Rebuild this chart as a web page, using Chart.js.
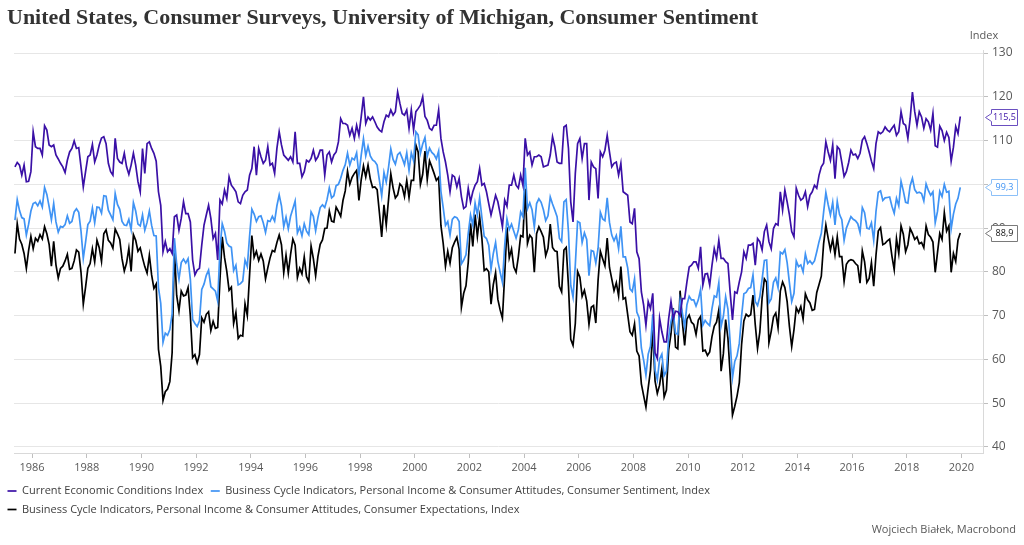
<!DOCTYPE html>
<html><head><meta charset="utf-8">
<script src="https://cdn.jsdelivr.net/npm/chart.js@4.4.1/dist/chart.umd.min.js"></script>
<style>html,body{margin:0;padding:0;background:#fff;}#wrap{position:relative;width:1024px;height:545px;}</style>
</head><body><div id="wrap"><canvas id="c"></canvas></div>
<script>
const titleText = 'United States, Consumer Surveys, University of Michigan, Consumer Sentiment';
const footerText = 'Wojciech Białek, Macrobond';
const unitLabel = 'Index';
const seriesNames = [
  'Current Economic Conditions Index',
  'Business Cycle Indicators, Personal Income & Consumer Attitudes, Consumer Sentiment, Index',
  'Business Cycle Indicators, Personal Income & Consumer Attitudes, Consumer Expectations, Index'
];
const startYear = 1985, startMonth = 5; // monthly, May 1985 .. Dec 2019
const xTicks = [1986,1988,1990,1992,1994,1996,1998,2000,2002,2004,2006,2008,2010,2012,2014,2016,2018,2020];
const yTicks = [40,50,60,70,80,90,100,110,120,130];

const currentConditions = [
104.0,105.0,104.4,102.1,104.4,100.6,100.7,102.9,
112.0,108.6,108.2,108.2,106.7,113.4,112.4,109.0,108.6,109.0,106.7,105.8,
104.8,104.0,102.7,105.5,107.4,108.2,109.9,108.2,108.4,104.0,99.4,102.9,
106.3,106.7,109.1,105.1,106.7,109.0,110.6,110.9,109.3,104.8,102.9,102.1,
110.5,105.9,105.1,104.8,107.1,104.0,102.3,104.4,107.1,104.4,100.6,98.3,
108.2,102.5,109.3,109.7,108.2,107.1,105.3,98.3,95.2,84.6,86.9,84.6,
85.3,84.2,92.6,93.0,89.5,92.2,96.0,93.3,93.3,91.4,82.7,79.3,
80.4,80.8,86.1,90.7,93.0,95.2,92.2,87.6,88.8,82.7,96.4,95.5,
98.7,96.8,101.7,99.8,99.1,98.3,96.0,95.6,97.5,98.3,98.7,102.1,
103.6,108.6,102.1,108.2,106.3,104.8,105.5,108.6,104.4,104.8,102.5,108.2,
112.0,109.0,106.7,106.1,105.5,106.3,105.1,112.0,104.8,104.8,101.7,102.9,
105.5,105.1,105.9,107.8,105.5,106.3,107.8,107.8,102.1,106.7,107.4,105.1,
106.7,107.4,109.7,115.0,113.9,113.9,113.5,111.2,112.8,110.5,113.5,111.2,
115.4,120.0,113.9,115.4,114.7,115.4,114.3,113.1,112.4,112.0,114.3,115.8,
115.4,117.0,115.8,116.6,121.1,118.5,116.2,115.8,117.0,112.8,117.0,112.4,
116.6,117.3,118.1,120.0,115.5,114.6,112.8,112.4,113.5,113.5,117.0,110.5,
107.4,105.1,102.1,98.3,102.1,101.7,99.4,101.3,97.2,94.5,94.9,99.1,
96.0,98.3,99.8,100.6,103.6,99.8,100.2,98.3,95.6,93.0,95.2,97.5,
96.0,93.3,90.3,96.4,95.0,99.8,99.8,102.1,99.8,99.1,102.1,99.8,
110.5,106.7,107.4,104.4,106.3,106.3,106.7,106.3,104.0,104.2,104.4,106.7,
110.9,108.6,105.1,104.8,104.8,113.1,113.5,108.2,96.0,91.4,102.5,109.3,
110.5,105.9,109.3,109.3,96.4,105.1,104.0,103.6,96.8,107.4,106.3,107.8,
111.2,107.4,104.0,104.8,105.1,102.1,104.8,98.3,97.9,97.5,91.4,91.0,
94.5,84.6,83.0,75.4,72.4,67.8,73.2,71.6,75.1,61.5,60.2,69.4,
66.3,64.0,64.0,69.4,73.2,69.4,71.0,70.9,70.0,73.9,73.9,77.7,
81.1,81.5,82.3,82.3,80.8,85.7,77.0,79.5,79.6,77.0,81.5,85.3,
83.1,87.2,83.1,83.1,82.3,81.9,75.2,69.0,75.4,75.1,77.7,80.0,
84.6,83.1,86.1,86.1,86.5,81.5,87.6,86.9,85.0,89.2,90.7,86.9,
85.3,89.9,91.0,90.7,98.3,94.1,98.7,96.0,93.0,89.2,88.0,99.1,
97.5,96.4,96.8,98.3,94.9,97.5,98.3,99.8,99.1,102.1,104.0,104.8,
109.7,107.4,105.5,109.0,101.3,108.6,108.0,105.0,101.8,102.9,105.0,107.8,
106.7,106.9,105.9,107.1,110.1,110.9,109.3,107.4,105.3,103.6,109.3,112.0,
111.6,112.0,113.1,112.4,112.0,112.8,113.5,111.2,112.0,116.6,113.9,113.5,
110.5,115.0,121.1,116.6,113.5,116.6,115.4,112.8,115.0,114.3,112.4,116.2,
108.8,108.5,113.3,112.3,110.0,111.9,110.7,105.3,108.5,113.2,111.6,115.5
];

const sentiment = [
91.8,96.5,94.0,92.4,92.1,88.4,90.9,93.9,
95.6,95.9,95.1,96.2,94.8,99.3,97.7,94.9,91.9,95.6,91.4,89.1,
90.4,90.2,90.8,92.8,91.1,91.5,93.7,94.4,93.6,89.3,83.1,86.8,
90.8,91.6,94.6,91.2,94.8,94.7,93.4,97.4,97.3,94.1,93.0,91.9,
97.9,95.4,94.3,91.5,90.7,90.6,92.0,89.6,95.8,93.9,90.9,90.5,
93.0,89.5,91.3,93.9,90.6,88.3,88.2,76.4,72.8,63.9,66.0,65.5,
66.8,70.4,87.7,81.8,78.3,82.1,82.9,82.0,83.0,78.3,69.1,68.2,
67.5,68.8,76.0,77.2,79.2,80.4,76.6,76.1,75.6,73.3,85.3,91.0,
89.3,86.6,85.9,85.6,80.3,81.5,77.0,77.3,77.9,82.7,81.2,88.2,
94.3,93.2,91.5,92.6,92.8,91.2,89.0,91.7,91.5,92.7,91.6,95.1,
97.6,95.1,90.3,92.5,89.8,92.7,94.4,96.2,88.9,90.2,88.2,91.0,
89.3,88.5,93.7,92.7,89.4,92.4,94.7,95.3,94.7,96.5,99.2,96.9,
97.4,99.7,100.0,101.4,103.2,104.5,107.1,104.4,106.0,105.6,107.2,102.1,
106.6,110.4,106.5,108.7,106.5,105.6,105.2,104.4,100.9,97.4,102.7,100.5,
103.9,108.1,105.7,104.6,106.8,107.3,106.0,104.5,107.2,103.2,107.2,105.4,
112.0,111.3,107.1,109.2,110.7,106.4,108.3,107.3,106.8,105.8,107.6,98.4,
94.7,90.6,91.5,88.4,92.0,92.6,92.4,91.5,81.8,82.7,83.9,88.8,
93.0,90.7,95.7,93.0,96.9,92.4,88.1,87.6,86.1,80.6,84.2,86.7,
82.4,79.9,77.6,86.0,92.1,89.7,90.9,89.3,87.7,89.6,93.7,92.6,
103.8,94.4,95.8,94.2,90.2,95.6,96.7,95.9,94.2,91.7,92.8,97.1,
95.5,94.1,92.6,87.7,86.9,96.0,96.5,89.1,76.9,74.2,81.6,91.5,
91.2,86.7,88.9,87.4,79.1,84.9,84.7,82.0,85.4,93.6,92.1,91.7,
96.9,91.3,88.4,87.1,88.3,85.3,90.4,83.4,83.4,80.9,76.1,75.5,
78.4,70.8,69.5,62.6,59.8,56.4,61.2,63.0,70.3,57.6,55.3,60.1,
61.2,56.3,57.3,65.1,68.7,70.8,66.0,65.7,73.5,70.6,67.4,72.5,
74.4,73.6,73.6,72.2,73.6,76.0,67.8,68.9,68.2,67.7,71.6,74.5,
74.2,77.5,67.5,69.8,74.3,71.5,63.7,55.8,59.5,60.8,63.7,69.9,
75.0,75.3,76.2,76.4,79.3,73.2,72.3,74.3,78.3,82.6,82.7,72.9,
73.8,77.6,78.6,76.4,84.5,84.1,85.1,82.1,77.5,73.2,75.1,82.5,
81.2,81.6,80.0,84.1,81.9,82.5,81.8,82.5,84.6,86.9,88.8,93.6,
98.1,95.4,93.0,95.9,90.7,96.1,93.1,91.9,87.2,90.0,91.3,92.6,
92.0,91.7,91.0,89.0,94.7,93.5,90.0,89.8,91.2,87.2,93.8,98.2,
98.5,96.3,96.9,97.0,97.1,95.0,93.4,96.8,95.1,100.7,98.5,95.9,
95.7,99.7,101.4,98.8,98.0,98.2,97.9,96.2,100.1,98.6,97.5,98.3,
91.2,93.8,98.4,97.2,100.0,98.2,98.4,89.8,93.2,95.5,96.8,99.3
];

const expectations = [
84.2,91.0,87.5,86.3,84.2,80.8,84.9,88.1,
85.3,87.7,87.0,88.5,87.5,90.3,88.7,86.3,81.3,87.0,81.6,78.6,
80.8,81.3,82.5,84.0,80.6,80.8,82.5,85.0,84.5,79.9,72.6,76.5,
80.8,81.9,85.3,82.3,87.2,85.5,82.4,88.7,89.6,87.2,86.6,85.4,
89.8,88.7,87.4,83.0,80.2,82.0,85.4,80.1,88.5,87.2,84.7,85.5,
83.2,81.2,79.7,83.8,79.3,76.2,77.2,62.3,58.4,50.6,52.6,53.2,
54.9,61.5,85.0,74.6,71.1,75.6,74.5,74.7,76.4,69.9,60.4,61.1,
59.2,61.1,69.5,68.5,70.3,70.9,66.6,68.7,67.1,67.3,78.2,88.0,
83.3,80.1,75.8,76.5,68.2,70.7,64.8,65.5,65.3,72.7,70.0,79.3,
88.3,83.3,84.7,82.6,84.1,82.5,78.4,80.9,83.2,84.9,84.6,86.7,
88.4,86.2,79.8,83.8,79.7,84.0,87.5,86.1,78.7,80.8,79.5,83.4,
78.9,77.8,85.9,83.0,79.1,83.5,86.3,87.3,89.9,90.0,93.9,91.6,
91.4,94.8,93.8,92.7,96.3,98.5,103.0,100.0,101.6,102.5,103.2,96.3,
101.0,104.2,101.7,104.4,101.2,99.3,99.4,98.8,93.5,88.0,95.3,90.7,
96.5,102.4,99.2,96.9,97.6,100.1,99.5,97.2,100.9,97.0,100.9,100.9,
109.0,107.4,100.0,102.3,107.6,101.1,105.4,104.0,102.5,100.9,101.6,90.6,
86.5,81.3,84.7,82.0,85.5,86.8,87.9,85.2,71.9,75.1,76.8,82.2,
91.1,85.8,93.1,88.1,92.6,87.6,80.3,80.7,80.0,72.6,77.1,79.8,
73.7,71.3,69.4,79.3,90.2,83.2,85.2,81.1,79.9,83.5,88.3,88.0,
99.0,86.5,88.4,87.7,79.9,88.7,90.3,89.2,87.9,83.7,85.4,90.9,
85.6,84.8,84.6,76.7,75.4,85.0,85.6,76.8,64.6,63.2,68.2,80.1,
78.8,74.4,75.8,73.3,68.0,71.9,72.3,68.3,78.1,84.7,83.0,81.4,
87.7,81.0,78.4,75.7,77.5,74.5,81.2,73.8,74.1,70.2,66.3,65.5,
68.1,61.9,60.8,54.4,51.7,49.1,53.5,57.5,67.2,55.1,52.2,54.1,
57.9,51.4,53.0,62.3,65.8,71.7,62.8,62.4,75.7,68.5,63.2,69.2,
70.1,68.5,68.0,65.7,69.0,69.8,61.9,62.1,60.9,61.7,65.2,67.6,
68.5,71.3,57.3,61.3,69.1,64.8,56.4,47.3,49.3,51.6,54.7,63.4,
68.8,70.3,69.8,70.2,74.7,67.9,62.5,66.2,74.0,78.4,77.6,63.8,
66.4,69.7,70.6,67.2,75.6,77.7,76.4,73.2,67.5,62.9,66.8,71.8,
70.7,72.1,69.2,75.0,73.6,72.9,71.2,71.4,75.3,77.1,79.0,86.4,
90.7,87.7,85.0,87.5,83.9,88.0,83.5,83.5,77.8,81.7,82.5,82.8,
82.6,81.9,81.4,77.4,84.8,82.3,77.6,78.5,82.1,76.7,83.8,89.3,
90.1,86.2,86.5,87.1,87.5,83.6,80.5,87.6,84.2,90.5,88.6,84.6,
86.2,89.9,88.8,87.4,88.0,86.4,86.7,85.5,90.5,88.5,87.9,86.8,
79.9,84.4,88.8,87.4,93.5,89.3,90.5,79.9,84.2,82.4,87.3,88.9
];

const seriesColors = ['#3a10a6', '#3f93f4', '#000000'];
const boxBorders = ['#6a4fc0', '#8cc0f8', '#7a7a7a'];
const boxText = ['#3a10a6', '#3f93f4', '#111111'];

// month positions (decimal years, mid-month)
const dates = sentiment.map((_, i) => startYear + (startMonth - 1 + i) / 12 + 1 / 24);
const toPoints = arr => arr.map((v, i) => ({ x: dates[i], y: v }));

const UI = '"Open Sans", "Liberation Sans", sans-serif';

const decor = {
  id: 'decor',
  afterDraw(chart) {
    const ctx = chart.ctx;
    const ys = chart.scales.y;
    ctx.save();
    // title
    ctx.font = 'bold 22px "Liberation Serif", serif';
    ctx.fillStyle = '#333333';
    ctx.textAlign = 'left';
    ctx.textBaseline = 'alphabetic';
    ctx.fillText(titleText, 7, 24);
    // unit label
    ctx.font = '11px ' + UI;
    ctx.fillStyle = '#595959';
    ctx.textAlign = 'center';
    ctx.textBaseline = 'middle';
    ctx.fillText(unitLabel, 984, 36);
    // footer
    ctx.textAlign = 'right';
    ctx.font = '11px ' + UI;
    ctx.fillStyle = '#595959';
    ctx.fillText(footerText, 1016, 530);
    // last-value boxes
    chart.data.datasets.forEach((ds, k) => {
      const last = ds.data[ds.data.length - 1].y;
      const y = Math.round(ys.getPixelForValue(last)) + 0.5;
      const xt = 985.5, xl = 991.5, xr = 1017.5, h = 8;
      ctx.beginPath();
      ctx.moveTo(xt, y);
      ctx.lineTo(xl, y - 4);
      ctx.lineTo(xl, y - h);
      ctx.lineTo(xr, y - h);
      ctx.lineTo(xr, y + h);
      ctx.lineTo(xl, y + h);
      ctx.lineTo(xl, y + 4);
      ctx.closePath();
      ctx.fillStyle = '#ffffff';
      ctx.fill();
      ctx.strokeStyle = boxBorders[k];
      ctx.lineWidth = 1;
      ctx.stroke();
      ctx.fillStyle = boxText[k];
      ctx.font = '9px ' + UI;
      ctx.textAlign = 'center';
      ctx.textBaseline = 'middle';
      ctx.fillText(last.toFixed(1).replace('.', ','), (xl + xr) / 2, y);
    });
    ctx.restore();
  }
};

const series = [currentConditions, sentiment, expectations];
new Chart(document.getElementById('c'), {
  type: 'line',
  data: {
    datasets: series.map((arr, k) => ({
      label: seriesNames[k],
      data: toPoints(arr),
      borderColor: seriesColors[k],
      backgroundColor: seriesColors[k],
      borderWidth: 1.7,
      pointRadius: 0,
      tension: 0,
      fill: false
    }))
  },
  options: {
    responsive: true,
    maintainAspectRatio: false,
    animation: false,
    devicePixelRatio: 1,
    layout: { padding: { top: 50, bottom: 20, left: 0, right: 0 } },
    plugins: {
      legend: {
        position: 'bottom',
        align: 'start',
        labels: {
          usePointStyle: true,
          pointStyle: 'line',
          pointStyleWidth: 9,
          boxHeight: 11,
          padding: 7.5,
          color: '#404040',
          font: { family: UI, size: 11 }
        }
      },
      tooltip: { enabled: false },
      title: { display: false }
    },
    scales: {
      x: {
        type: 'linear',
        min: 1985.34,
        max: 2020.79,
        afterBuildTicks: s => { s.ticks = xTicks.map(v => ({ value: v })); },
        afterFit: s => { s.height = 25; },
        grid: { drawOnChartArea: false, drawTicks: true, tickLength: 5, color: '#bfbfbf' },
        border: { display: true, color: '#d9d9d9' },
        ticks: { color: '#595959', font: { family: UI, size: 11 }, padding: 3, maxRotation: 0, autoSkip: false, callback: v => String(v) }
      },
      y: {
        position: 'right',
        min: 38.6,
        max: 130.7,
        afterBuildTicks: s => { s.ticks = yTicks.map(v => ({ value: v })); },
        afterFit: s => { s.width = 41; },
        grid: { color: '#e6e6e6', drawTicks: true, tickLength: 5, tickColor: '#bfbfbf' },
        border: { display: true, color: '#d9d9d9' },
        ticks: { color: '#595959', font: { family: UI, size: 12 }, padding: 4, callback: v => String(v) }
      },
      yl: {
        position: 'left',
        display: true,
        afterFit: s => { s.width = 14; },
        grid: { display: false },
        border: { display: false },
        ticks: { display: false }
      }
    }
  },
  plugins: [decor]
});
</script></body></html>
